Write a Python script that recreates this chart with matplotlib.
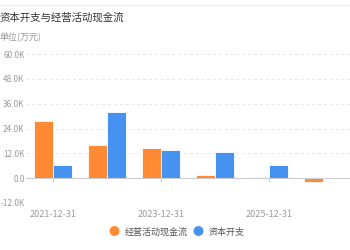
import matplotlib
matplotlib.use("Agg")
import matplotlib.pyplot as plt
import numpy as np

plt.rcParams['font.family'] = ['Noto Sans CJK SC', 'DejaVu Sans']

years = ["2021-12-31", "2022-12-31", "2023-12-31", "2024-12-31", "2025-12-31", "2026-12-31"]
cash_flow = [27.4, 15.8, 14.4, 1.5, 0.5, -1.7]   # 经营活动现金流 (K)
capex = [6.2, 32.2, 13.4, 12.5, 6.2, 0.0]        # 资本开支 (K)
y_ticks = [-12, 0, 12, 24, 36, 48, 60]

orange = "#ff8a33"
blue = "#4592f0"
grey = "#999999"

fig = plt.figure(figsize=(3.5, 2.5), dpi=100)
ax = fig.add_axes([26 / 350, 1 - 203 / 250, 324 / 350, 149 / 250])

x = np.arange(len(years))
w = 0.36
ax.bar(x - w / 2, cash_flow, w, color=orange, edgecolor="white", linewidth=0.6, zorder=3)
ax.bar(x + w / 2, capex, w, color=blue, edgecolor="white", linewidth=0.6, zorder=3)

ax.set_xlim(-0.5, 5.5)
ax.set_ylim(-12, 60)
ax.set_yticks(y_ticks)
ax.set_yticklabels(["%.1fK" % v if v != 0 else "0.0" for v in y_ticks])
ax.grid(axis="y", color="#e6e6e6", linestyle=(0, (3, 3)), linewidth=0.7, zorder=0)

for s in ["top", "right", "left"]:
    ax.spines[s].set_visible(False)
ax.spines["bottom"].set_position(("data", 0))
ax.spines["bottom"].set_color("#cccccc")
ax.spines["bottom"].set_zorder(4)

ax.set_xticks(x[::2])
ax.set_xticklabels(years[::2])
ax.tick_params(axis="x", length=3, color="#cccccc", pad=20, labelsize=6.5, labelcolor=grey)
ax.tick_params(axis="y", length=0, pad=1, labelsize=5.9, labelcolor=grey)

fig.text(0.0, 0.93, "资本开支与经营活动现金流", fontsize=7.5, color="#333333", va="center")
fig.text(0.0, 0.852, "单位(万元)", fontsize=6.5, color=grey, va="center")
fig.add_artist(plt.Line2D([0, 1], [0.98, 0.98], color="#eeeeee", linewidth=0.8))

fig.text(0.326, 0.072, "●", color=orange, fontsize=8, ha="center", va="center")
fig.text(0.355, 0.072, "经营活动现金流", color="#555555", fontsize=6.5, va="center")
fig.text(0.566, 0.072, "●", color=blue, fontsize=8, ha="center", va="center")
fig.text(0.595, 0.072, "资本开支", color="#555555", fontsize=6.5, va="center")

fig.savefig("out.png", dpi=100)
